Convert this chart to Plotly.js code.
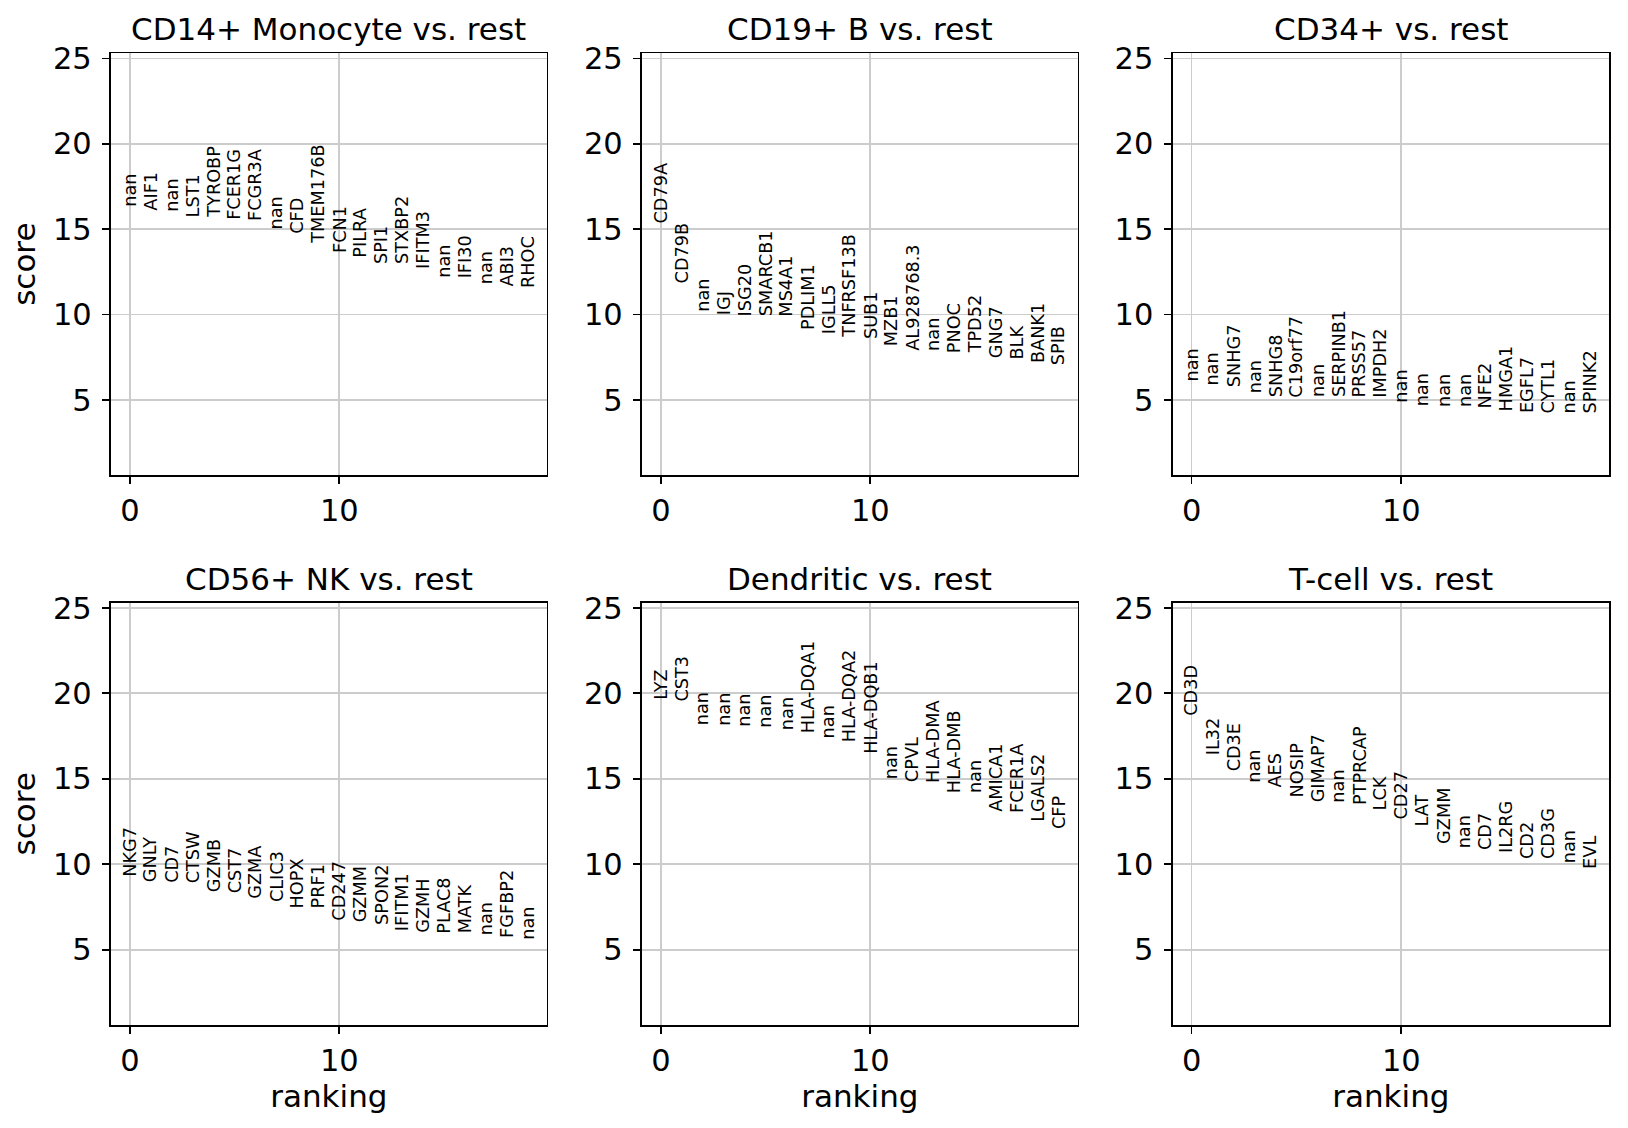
<!DOCTYPE html>
<html>
<head>
<meta charset="utf-8">
<script src="https://cdn.plot.ly/plotly-3.0.1.min.js"></script>
<style>
html, body { margin: 0; padding: 0; background: #ffffff; }
#chart { width: 1628px; height: 1128px; }
</style>
</head>
<body>
<div id="chart"></div>
<script>
// ---- data ----
const ranking = [0, 1, 2, 3, 4, 5, 6, 7, 8, 9, 10, 11, 12, 13, 14, 15, 16, 17, 18, 19];

const groupTitles = ["CD14+ Monocyte vs. rest", "CD19+ B vs. rest", "CD34+ vs. rest",
                     "CD56+ NK vs. rest", "Dendritic vs. rest", "T-cell vs. rest"];

const genesMono = ["nan", "AIF1", "nan", "LST1", "TYROBP", "FCER1G", "FCGR3A", "nan", "CFD", "TMEM176B",
                   "FCN1", "PILRA", "SPI1", "STXBP2", "IFITM3", "nan", "IFI30", "nan", "ABI3", "RHOC"];
const scoresMono = [16.27, 16.04, 15.98, 15.64, 15.59, 15.49, 15.39, 14.92, 14.69, 14.08,
                    13.54, 13.26, 12.91, 12.91, 12.62, 12.07, 12.03, 11.74, 11.60, 11.48];

const genesB = ["CD79A", "CD79B", "nan", "IGJ", "ISG20", "SMARCB1", "MS4A1", "PDLIM1", "IGLL5", "TNFRSF13B",
                "SUB1", "MZB1", "AL928768.3", "nan", "PNOC", "TPD52", "GNG7", "BLK", "BANK1", "SPIB"];
const scoresB = [15.29, 11.78, 10.12, 9.88, 9.84, 9.82, 9.82, 9.06, 8.81, 8.61,
                 8.52, 8.07, 7.83, 7.79, 7.68, 7.64, 7.38, 7.30, 7.09, 6.99];

const genesCD34 = ["nan", "nan", "SNHG7", "nan", "SNHG8", "C19orf77", "nan", "SERPINB1", "PRSS57", "IMPDH2",
                   "nan", "nan", "nan", "nan", "NFE2", "HMGA1", "EGFL7", "CYTL1", "nan", "SPINK2"];
const scoresCD34 = [6.02, 5.78, 5.68, 5.33, 5.10, 5.10, 5.10, 5.10, 5.10, 5.06,
                    4.77, 4.55, 4.51, 4.51, 4.45, 4.28, 4.18, 4.12, 4.12, 4.12];

const genesNK = ["NKG7", "GNLY", "CD7", "CTSW", "GZMB", "CST7", "GZMA", "CLIC3", "HOPX", "PRF1",
                 "CD247", "GZMM", "SPON2", "IFITM1", "GZMH", "PLAC8", "MATK", "nan", "FGFBP2", "nan"];
const scoresNK = [9.20, 8.91, 8.87, 8.81, 8.32, 8.22, 7.93, 7.73, 7.38, 7.38,
                  6.66, 6.56, 6.41, 6.04, 5.94, 5.88, 5.88, 5.82, 5.63, 5.55];

const genesDC = ["LYZ", "CST3", "nan", "nan", "nan", "nan", "nan", "HLA-DQA1", "nan", "HLA-DQA2",
                 "HLA-DQB1", "nan", "CPVL", "HLA-DMA", "HLA-DMB", "nan", "AMICA1", "FCER1A", "LGALS2", "CFP"];
const scoresDC = [19.55, 19.45, 18.09, 18.05, 17.99, 17.93, 17.79, 17.60, 17.30, 17.07,
                  16.39, 14.90, 14.73, 14.67, 14.08, 14.08, 13.01, 12.97, 12.42, 11.99];

const genesT = ["CD3D", "IL32", "CD3E", "nan", "AES", "NOSIP", "GIMAP7", "nan", "PTPRCAP", "LCK",
                "CD27", "LAT", "GZMM", "nan", "CD7", "IL2RG", "CD2", "CD3G", "nan", "EVL"];
const scoresT = [18.63, 16.29, 15.35, 14.71, 14.43, 13.85, 13.59, 13.54, 13.40, 13.11,
                 12.58, 12.17, 11.15, 10.86, 10.76, 10.61, 10.23, 10.23, 9.98, 9.65];

const xTicks = [0, 10];
const yTicks = [5, 10, 15, 20, 25];

// ---- layout / drawing ----
const panels = [
  {genes: genesMono, scores: scoresMono},
  {genes: genesB, scores: scoresB},
  {genes: genesCD34, scores: scoresCD34},
  {genes: genesNK, scores: scoresNK},
  {genes: genesDC, scores: scoresDC},
  {genes: genesT, scores: scoresT}
];

const FONT = "DejaVu Sans";
const W = 1628, H = 1128;
const colEdges = [[111, 546.7], [642, 1077.7], [1172.7, 1609]];
const rowEdges = [[53.3, 475], [602.7, 1025]];

const layout = {
  width: W, height: H,
  margin: {l: 0, r: 0, t: 0, b: 0},
  paper_bgcolor: "#ffffff",
  plot_bgcolor: "#ffffff",
  showlegend: false,
  font: {family: FONT, color: "#000000"},
  annotations: []
};
const traces = [];

panels.forEach((p, k) => {
  const n = k + 1;
  const col = k % 3, row = Math.floor(k / 3);
  const xs = n === 1 ? "" : String(n);
  const xDom = [colEdges[col][0] / W, colEdges[col][1] / W];
  const yDom = [1 - rowEdges[row][1] / H, 1 - rowEdges[row][0] / H];

  const axCommon = {
    showgrid: true, gridcolor: "#cccccc", gridwidth: 1.7,
    showline: true, mirror: true, linecolor: "#000000", linewidth: 1.7,
    ticks: "outside", ticklen: 7.5, tickwidth: 1.7, tickcolor: "#000000",
    zeroline: false, fixedrange: true,
    tickfont: {family: FONT, size: 30.5, color: "#000000"}
  };

  layout["xaxis" + xs] = Object.assign({}, axCommon, {
    domain: xDom, anchor: "y" + xs, range: [-0.9, 19.9],
    tickmode: "array", tickvals: xTicks, ticktext: xTicks.map(String)
  });
  layout["yaxis" + xs] = Object.assign({}, axCommon, {
    domain: yDom, anchor: "x" + xs, range: [0.6, 25.3],
    tickmode: "array", tickvals: yTicks, ticktext: yTicks.map(String),
    ticklabelstandoff: 4
  });
  if (col === 0) {
    layout["yaxis" + xs].title = {text: "score", font: {family: FONT, size: 31, color: "#000"}, standoff: 8};
  }
  if (row === 1) {
    layout["xaxis" + xs].title = {text: "ranking", font: {family: FONT, size: 31, color: "#000"}, standoff: 8};
  }

  traces.push({
    type: "scatter", mode: "markers", x: ranking, y: p.scores,
    xaxis: "x" + xs, yaxis: "y" + xs,
    marker: {opacity: 0, size: 2}, hoverinfo: "skip", showlegend: false
  });

  p.genes.forEach((g, i) => {
    layout.annotations.push({
      xref: "x" + xs, yref: "y" + xs, x: ranking[i], y: p.scores[i],
      text: g, textangle: -90, showarrow: false,
      xanchor: "center", yanchor: "bottom", borderpad: 0,
      font: {family: FONT, size: 17.7, color: "#000000"}
    });
  });

  layout.annotations.push({
    xref: "paper", yref: "paper", x: (xDom[0] + xDom[1]) / 2, y: yDom[1],
    xanchor: "center", yanchor: "bottom", yshift: 4, showarrow: false,
    text: groupTitles[k], font: {family: FONT, size: 31, color: "#000000"}
  });
});

Plotly.newPlot("chart", traces, layout, {displayModeBar: false, staticPlot: true});
</script>
</body>
</html>
